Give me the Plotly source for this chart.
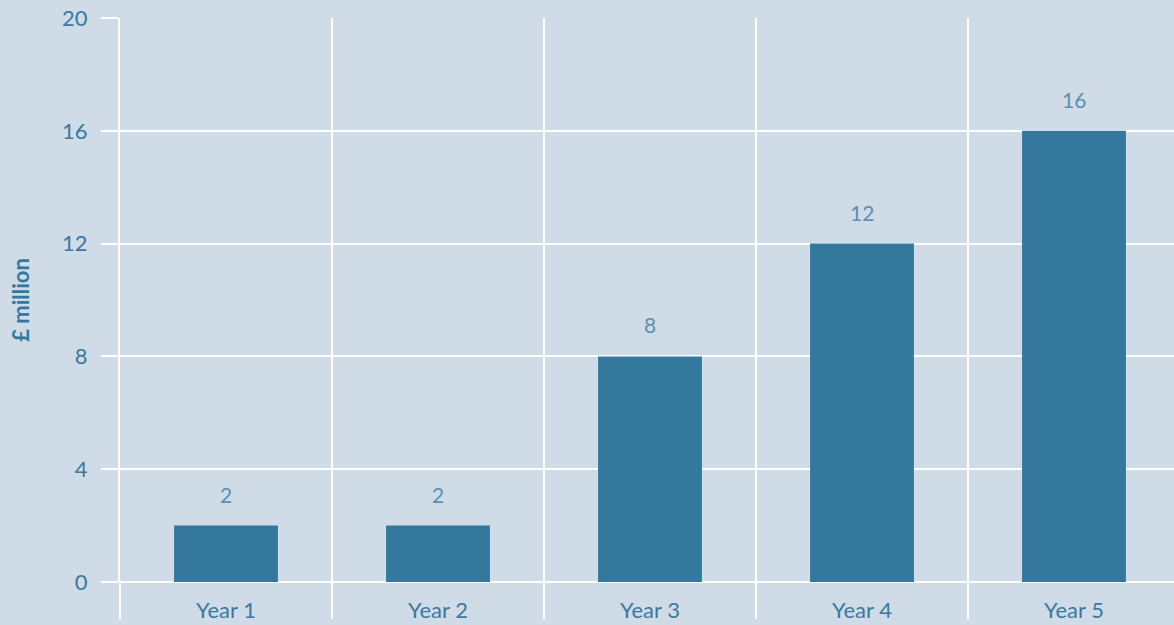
import plotly.graph_objects as go

categories = ["Year 1", "Year 2", "Year 3", "Year 4", "Year 5"]
values = [2, 2, 8, 12, 16]
y_ticks = [0, 4, 8, 12, 16, 20]

BG = "#cfdbe6"
BAR = "#34789e"
TXT = "#3a79a0"
LBL = "#5b8fb4"
FONT = "Lato, 'Noto Sans', sans-serif"

x_range = [-0.5, -0.5 + 1054 / 212]
positions = list(range(len(categories)))

fig = go.Figure()
fig.add_trace(go.Bar(x=categories, y=values, marker=dict(color=BAR, line=dict(width=0)),
                     width=0.49, hoverinfo="skip"))
# invisible helper trace so the label axis is drawn
fig.add_trace(go.Scatter(x=positions, y=values, xaxis="x2", mode="markers",
                         marker=dict(opacity=0, size=1), hoverinfo="skip"))

for c, v in zip(categories, values):
    fig.add_annotation(x=c, y=v, text=str(v), showarrow=False, yanchor="bottom",
                       yshift=17, font=dict(family=FONT, size=21, color=LBL))

fig.update_layout(
    width=1174, height=625,
    margin=dict(l=120, r=0, t=18, b=43, autoexpand=False),
    paper_bgcolor=BG, plot_bgcolor=BG,
    showlegend=False,
    font=dict(family=FONT, color=TXT, size=22),
    xaxis=dict(
        range=x_range, automargin=False,
        tickson="boundaries", ticks="outside", ticklen=36, tickwidth=2, tickcolor="white",
        showgrid=True, gridcolor="white", gridwidth=2,
        showticklabels=False,
        showline=False, zeroline=False,
    ),
    xaxis2=dict(
        overlaying="x", anchor="y", side="bottom", type="linear",
        range=x_range, tickvals=positions, ticktext=categories, automargin=False,
        showgrid=False, zeroline=False, showline=False, ticks="",
        ticklabelstandoff=13,
        tickfont=dict(family=FONT, size=22, color=TXT),
    ),
)
fig.update_yaxes(
    range=[0, 20], tickvals=y_ticks, automargin=False,
    ticks="outside", ticklen=17, tickwidth=2, tickcolor="white",
    showgrid=True, gridcolor="white", gridwidth=2,
    zeroline=True, zerolinecolor="white", zerolinewidth=2,
    ticklabelstandoff=9,
    tickfont=dict(family=FONT, size=22, color=TXT),
    title=dict(text="<b>£ million</b>", font=dict(family=FONT, size=22, color=BAR), standoff=26),
    showline=True, linecolor="white", linewidth=2,
)

fig.write_html("out.html")
